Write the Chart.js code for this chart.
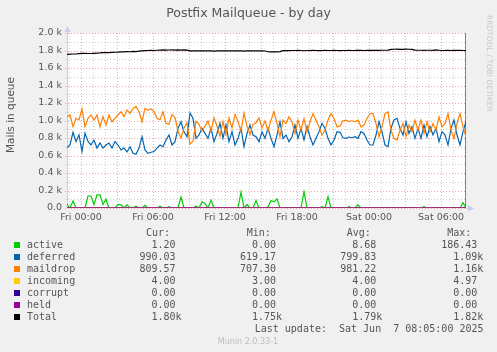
<!DOCTYPE html>
<html>
<head>
<meta charset="utf-8">
<script src="https://cdn.jsdelivr.net/npm/chart.js@4/dist/chart.umd.min.js"></script>
<style>
  body { margin: 0; background: #f0f0f0; }
  canvas { display: block; }
</style>
</head>
<body>
<canvas id="myChart" width="497" height="352"></canvas>
<script>
// Data (hours relative to Fri 00:00, one sample every 15 min)

const startHour = -1.17;
const stepHours = 0.25;
const endHour = 32.08;

const xTickValues = [0, 6, 12, 18, 24, 30];
const xTickLabels = ["Fri 00:00", "Fri 06:00", "Fri 12:00", "Fri 18:00", "Sat 00:00", "Sat 06:00"];

const active = [
  45, 0, 80, 0, 0, 0, 0, 137, 137, 40,
  150, 150, 40, 100, 0, 0, 0, 40, 35, 0,
  35, 0, 0, 20, 0, 0, 30, 0, 0, 0,
  0, 20, 0, 0, 15, 0, 0, 0, 125, 0,
  0, 0, 0, 20, 0, 70, 50, 0, 90, 0,
  0, 0, 0, 0, 0, 0, 0, 0, 180, 0,
  40, 0, 0, 85, 0, 0, 0, 15, 85, 70,
  105, 0, 0, 0, 0, 0, 0, 0, 0, 186,
  0, 0, 0, 0, 0, 15, 0, 130, 0, 0,
  0, 0, 0, 0, 15, 0, 0, 35, 0, 0,
  0, 0, 0, 0, 0, 0, 0, 0, 0, 0,
  0, 0, 0, 0, 0, 0, 0, 0, 0, 15,
  0, 0, 0, 0, 0, 0, 0, 0, 0, 0,
  0, 0, 60, 1.2
];

const deferred = [
  690, 720, 865, 760, 835, 645, 855, 760, 720, 777, 685, 743, 685, 720, 743, 685, 760,
  720, 663, 685, 640, 700, 625, 613, 685, 815, 663, 625, 637, 645, 685, 720, 700, 777,
  834, 720, 758, 910, 986, 872, 815, 1085, 1025, 796, 834, 910, 853, 796, 910, 758, 853,
  968, 796, 949, 758, 872, 720, 796, 910, 701, 853, 949, 834, 815, 758, 872, 796, 910,
  796, 701, 834, 986, 796, 834, 758, 815, 949, 796, 910, 777, 929, 815, 720, 796, 872,
  968, 910, 796, 720, 777, 872, 865, 803, 796, 811, 803, 815, 796, 872, 853, 777, 720,
  720, 834, 986, 872, 720, 701, 910, 1006, 1025, 910, 834, 986, 853, 929, 796, 910,
  796, 949, 815, 929, 834, 910, 758, 872, 834, 720, 910, 1006, 834, 720, 872, 990
];

const maildrop = [
  1043, 1063, 929, 1025, 1006, 1131, 929, 1025, 1063, 1006, 1063, 929, 1043, 949, 1063, 986, 1025,
  1063, 1101, 1043, 1120, 1082, 1139, 1158, 1101, 986, 1139, 1120, 1131, 1101, 1025, 1006, 1101, 968,
  956, 1070, 1030, 880, 800, 915, 975, 730, 765, 990, 955, 880, 935, 995, 880, 1030, 935,
  820, 990, 840, 1030, 915, 1070, 990, 880, 1085, 935, 840, 955, 975, 1030, 915, 995, 880,
  1004, 1099, 966, 814, 1004, 966, 1042, 985, 851, 1004, 890, 1023, 871, 985, 1080, 1004, 928,
  832, 890, 1004, 1080, 1023, 928, 935, 997, 1004, 989, 997, 985, 1004, 928, 947, 1023, 1080,
  1080, 966, 814, 928, 1080, 1099, 890, 794, 775, 890, 966, 814, 947, 871, 1004, 890,
  1004, 851, 985, 871, 966, 890, 1042, 928, 966, 1080, 890, 794, 966, 1080, 928, 810
];

const total = [
  1756, 1758, 1760, 1760, 1765, 1768,
  1768, 1766, 1766, 1768, 1770, 1772, 1775, 1775,
  1776, 1778, 1780, 1782, 1785, 1784, 1787, 1786,
  1790, 1788, 1792, 1795, 1798, 1800,
  1802, 1800, 1803, 1805, 1806, 1805, 1806, 1808, 1805, 1806, 1805, 1806, 1805,
  1796, 1795, 1796, 1795, 1795, 1796, 1795, 1795, 1794, 1795, 1796, 1795, 1795,
  1795, 1796, 1795, 1795, 1795, 1794, 1795, 1795, 1796, 1795, 1795, 1795, 1794,
  1786, 1784, 1784, 1785, 1788,
  1798, 1800, 1799, 1800, 1800, 1801, 1800, 1797, 1800, 1800, 1801, 1800,
  1798, 1800, 1802, 1800, 1800, 1801, 1800, 1799, 1800, 1800, 1802, 1800,
  1801, 1803, 1802, 1800, 1802, 1803, 1802, 1803, 1802, 1803, 1803, 1804,
  1812, 1814, 1815, 1814, 1814, 1815, 1814, 1812,
  1804, 1803, 1803, 1802, 1803, 1803, 1802, 1806, 1803,
  1800, 1801, 1803, 1800, 1801, 1801, 1801, 1800, 1800
];

// flat series, only two samples needed
const flatTimes = [startHour, endHour];
const incoming = [4.0, 4.0];
const corrupt = [0, 0];
const held = [0, 0];

// Legend table
const seriesNames = ["active", "deferred", "maildrop", "incoming", "corrupt", "held", "Total"];
const seriesColors = ["#00cc00", "#0066b3", "#ff8000", "#ffcc00", "#330099", "#990099", "#000000"];
const curVals = ["1.20", "990.03", "809.57", "4.00", "0.00", "0.00", "1.80k"];
const minVals = ["0.00", "619.17", "707.30", "3.00", "0.00", "0.00", "1.75k"];
const avgVals = ["8.68", "799.83", "981.22", "4.00", "0.00", "0.00", "1.79k"];
const maxVals = ["186.43", "1.09k", "1.16k", "4.97", "0.00", "0.00", "1.82k"];

const times = active.map((_, i) => startHour + i * stepHours);
const toPoints = (vals, xs) => vals.map((v, i) => ({ x: xs[i], y: v }));

const textColor = "#555555";
const gridRed = "#f2a4a4";
const gridGray = "#cfcfcf";
const axisBlue = "#c8cdf0";

// Plugins

const backgroundPlugin = {
  id: "muninBackground",
  beforeDraw(chart) {
    const { ctx, chartArea } = chart;
    ctx.save();
    ctx.fillStyle = "#f0f0f0";
    ctx.fillRect(0, 0, chart.width, chart.height);
    ctx.fillStyle = "#ffffff";
    ctx.fillRect(chartArea.left, chartArea.top, chartArea.right - chartArea.left, chartArea.bottom - chartArea.top);
    ctx.restore();
  },
  beforeDatasetsDraw(chart) {
    const { ctx, chartArea, scales } = chart;
    ctx.save();
    ctx.lineWidth = 1;
    ctx.setLineDash([1, 2]);
    // horizontal grid
    for (let v = 0; v <= 2000; v += 100) {
      const y = Math.round(scales.y.getPixelForValue(v)) + 0.5;
      ctx.strokeStyle = v % 200 === 0 ? gridRed : gridGray;
      ctx.beginPath();
      ctx.moveTo(chartArea.left - 2, y);
      ctx.lineTo(chartArea.right, y);
      ctx.stroke();
    }
    // vertical grid
    for (let h = -1; h <= 32; h++) {
      const x = Math.round(scales.x.getPixelForValue(h)) + 0.5;
      ctx.strokeStyle = h % 3 === 0 ? gridRed : gridGray;
      ctx.beginPath();
      ctx.moveTo(x, chartArea.top);
      ctx.lineTo(x, chartArea.bottom + 2);
      ctx.stroke();
    }
    ctx.setLineDash([]);
    // left axis + arrow
    ctx.strokeStyle = axisBlue;
    ctx.fillStyle = axisBlue;
    const lx = chartArea.left + 0.5;
    ctx.beginPath();
    ctx.moveTo(lx, chartArea.bottom);
    ctx.lineTo(lx, chartArea.top - 3);
    ctx.stroke();
    ctx.beginPath();
    ctx.moveTo(lx - 3, chartArea.top - 1);
    ctx.lineTo(lx + 3, chartArea.top - 1);
    ctx.lineTo(lx, chartArea.top - 7);
    ctx.closePath();
    ctx.fill();
    // bottom axis arrow
    const by = chartArea.bottom + 0.5;
    ctx.beginPath();
    ctx.moveTo(chartArea.right, by);
    ctx.lineTo(chartArea.right + 3, by);
    ctx.stroke();
    ctx.beginPath();
    ctx.moveTo(chartArea.right + 2, by - 3);
    ctx.lineTo(chartArea.right + 2, by + 3);
    ctx.lineTo(chartArea.right + 8, by);
    ctx.closePath();
    ctx.fill();
    // right frame
    ctx.strokeStyle = "#808080";
    ctx.beginPath();
    ctx.moveTo(chartArea.right - 0.5, chartArea.top);
    ctx.lineTo(chartArea.right - 0.5, chartArea.bottom);
    ctx.stroke();
    ctx.restore();
  },
  afterDraw(chart) {
    const { ctx } = chart;
    ctx.save();
    ctx.fillStyle = textColor;
    ctx.textBaseline = "middle";

    // title
    ctx.font = "12.5px 'DejaVu Sans'";
    ctx.textAlign = "center";
    ctx.fillText("Postfix Mailqueue - by day", 248.5, 13.5);

    // y title
    ctx.save();
    ctx.font = "10.5px 'DejaVu Sans'";
    ctx.translate(11, 115);
    ctx.rotate(-Math.PI / 2);
    ctx.fillText("Mails in queue", 0, 0);
    ctx.restore();

    // rrdtool credit
    ctx.save();
    ctx.fillStyle = "#c8c8c8";
    ctx.font = "7.5px 'DejaVu Sans'";
    ctx.translate(488.5, 15);
    ctx.rotate(Math.PI / 2);
    ctx.textAlign = "left";
    ctx.fillText("RRDTOOL / TOBI OETIKER", 0, 0);
    ctx.restore();

    // legend table
    ctx.font = "10px 'DejaVu Sans Mono'";
    ctx.textAlign = "left";
    const headY = 233.7;
    ctx.fillText("Cur:", 146, headY);
    ctx.fillText("Min:", 246.7, headY);
    ctx.fillText("Avg:", 346.7, headY);
    ctx.fillText("Max:", 447.3, headY);

    const colEdges = [175.5, 276, 376.3, 477.3];
    const drawVal = (s, edge, y) => {
      if (s.endsWith("k")) {
        ctx.textAlign = "right";
        ctx.fillText(s.slice(0, -1), edge, y);
        ctx.textAlign = "left";
        ctx.fillText("k", edge, y);
      } else {
        ctx.textAlign = "right";
        ctx.fillText(s, edge, y);
      }
    };
    seriesNames.forEach((name, i) => {
      const y = 245.7 + i * 12;
      ctx.fillStyle = seriesColors[i];
      ctx.fillRect(14, Math.round(y) - 4, 6, 6);
      ctx.fillStyle = textColor;
      ctx.textAlign = "left";
      ctx.fillText(name, 27, y);
      drawVal(curVals[i], colEdges[0], y);
      drawVal(minVals[i], colEdges[1], y);
      drawVal(avgVals[i], colEdges[2], y);
      drawVal(maxVals[i], colEdges[3], y);
    });

    ctx.textAlign = "right";
    ctx.fillText("Last update:  Sat Jun  7 08:05:00 2025", 483.5, 329.7);

    ctx.fillStyle = "#bdbdbd";
    ctx.font = "8px 'DejaVu Sans'";
    ctx.textAlign = "center";
    ctx.fillText("Munin 2.0.33-1", 248, 341.5);
    ctx.restore();
  },
};

// Chart

const line = (label, vals, xs, color, order) => ({
  label,
  data: toPoints(vals, xs),
  borderColor: color,
  backgroundColor: color,
  borderWidth: 1.2,
  pointRadius: 0,
  tension: 0,
  fill: false,
  order,
});

const config = {
  type: "line",
  data: {
    datasets: [
      line("active", active, times, "#00cc00", 6),
      line("deferred", deferred, times, "#0066b3", 5),
      line("maildrop", maildrop, times, "#ff8000", 4),
      line("incoming", incoming, flatTimes, "#ffcc00", 3),
      line("corrupt", corrupt, flatTimes, "#330099", 2),
      line("held", held, flatTimes, "#990099", 1),
      line("Total", total, times, "#000000", 0),
    ],
  },
  options: {
    responsive: false,
    animation: false,
    devicePixelRatio: 1,
    layout: { padding: { top: 33, right: 31, bottom: 124, left: 0 } },
    plugins: { legend: { display: false }, tooltip: { enabled: false } },
    scales: {
      x: {
        type: "linear",
        min: startHour,
        max: endHour,
        afterFit: (scale) => { scale.height = 20; },
        afterBuildTicks: (scale) => {
          scale.ticks = xTickValues.map((v) => ({ value: v }));
        },
        grid: { display: false, drawTicks: false },
        border: { display: false },
        ticks: {
          autoSkip: false,
          maxRotation: 0,
          padding: 4,
          color: textColor,
          font: { family: "'DejaVu Sans'", size: 9.5 },
          callback: (v) => xTickLabels[xTickValues.indexOf(v)],
        },
      },
      y: {
        min: 0,
        max: 2000,
        afterFit: (scale) => { scale.width = 67; },
        grid: { display: false, drawTicks: false },
        border: { display: false },
        ticks: {
          stepSize: 200,
          padding: 5,
          color: textColor,
          font: { family: "'DejaVu Sans'", size: 9.5 },
          callback: (v) => (v === 0 ? "0.0" : (v / 1000).toFixed(1) + " k"),
        },
      },
    },
  },
  plugins: [backgroundPlugin],
};

const myChart = new Chart(document.getElementById("myChart"), config);
</script>
</body>
</html>
